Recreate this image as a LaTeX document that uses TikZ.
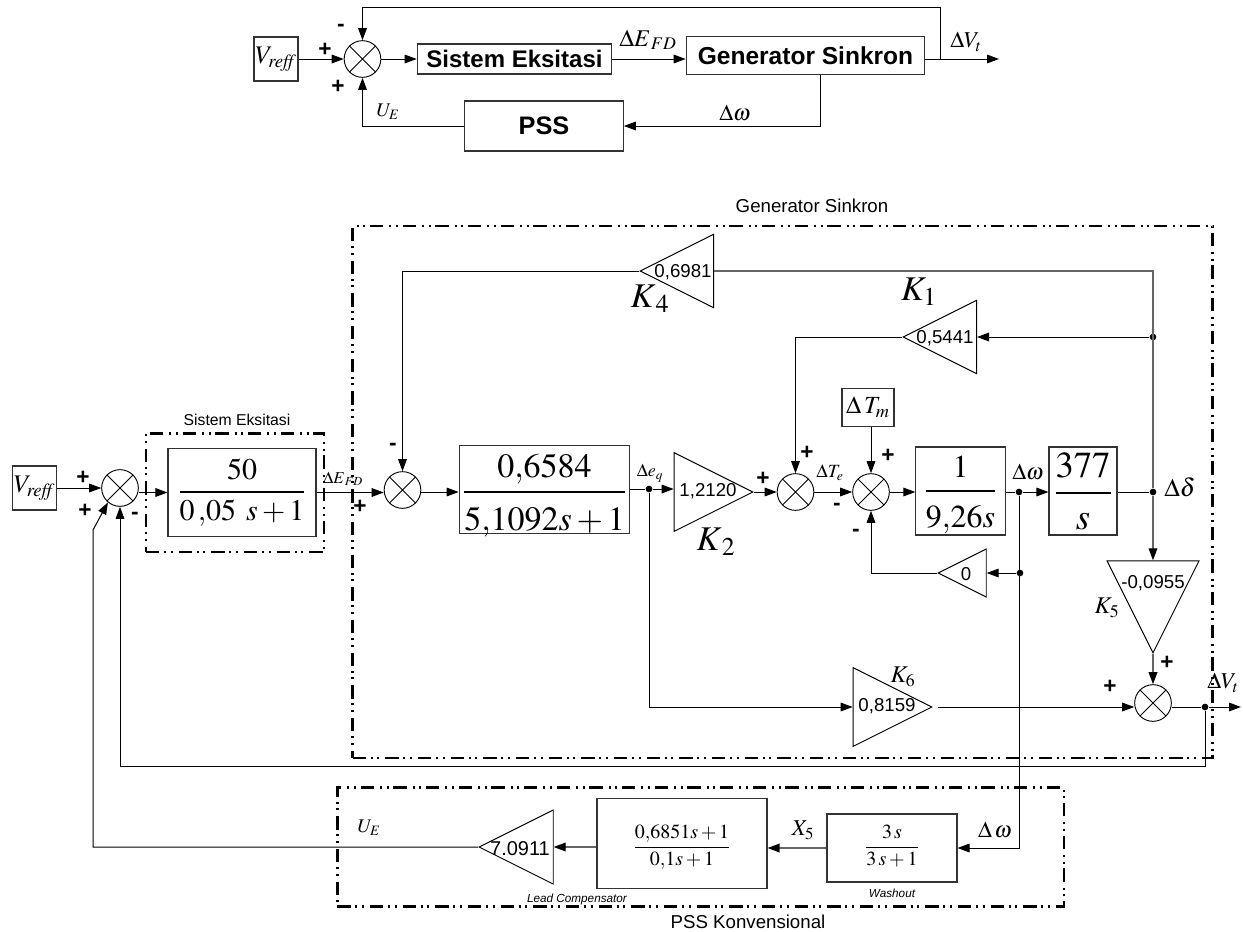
\documentclass[tikz,border=0pt]{standalone}
\usepackage{amsmath}
\usepackage{mathptmx}
\usepackage[no-math]{fontspec}
\setmainfont{Liberation Sans}
\usepackage{tikz}
\usetikzlibrary{shapes.geometric, arrows.meta}

\newcommand{\barfrac}[3]{\smash{\raisebox{\dimexpr#1-0.25em\relax}{$\dfrac{#2}{#3}$}}}

\begin{document}
\begin{tikzpicture}[x=0.75pt, y=-0.75pt,
            block/.style={draw=black!80, rectangle, line width=0.8pt, inner sep=0pt},
            sumnode/.style={draw=black, circle, line width=0.7pt, minimum size=27.5pt, inner sep=0pt,
                path picture={\draw [line width=0.6pt] (path picture bounding box.north west) -- (path picture bounding box.south east)
                    (path picture bounding box.north east) -- (path picture bounding box.south west);}},
            gain/.style={draw=black, isosceles triangle, isosceles triangle stretches, line width=0.7pt, inner sep=0pt, anchor=apex},
            gainleft/.style={gain, shape border rotate=180},
            value/.style={inner sep=0pt, font=\fontsize{14}{16}\selectfont},
            dot/.style={circle, fill=black, inner sep=0pt, minimum size=5pt},
            sign/.style={inner sep=0pt, font=\bfseries\fontsize{17}{19}\selectfont},
            sym/.style={inner sep=0pt, font=\fontsize{17}{19}\selectfont},
            bigk/.style={inner sep=0pt, font=\fontsize{26}{28}\selectfont},
            smallk/.style={inner sep=0pt, font=\fontsize{18}{20}\selectfont},
            title/.style={inner sep=0pt, font=\fontsize{14}{16}\selectfont},
            note/.style={inner sep=0pt, font=\itshape\fontsize{8.8}{10}\selectfont},
            groupbox/.style={draw=black, line width=2pt, dash pattern=on 10pt off 3.5pt on 1.5pt off 3.5pt on 1.5pt off 4.5pt},
            wire/.style={line width=0.75pt},
            greywire/.style={line width=1pt, draw=black!60},
            arrow/.style={wire,-{Triangle[length=9pt,width=6.5pt,color=black]}}]

            \useasboundingbox (0,0) rectangle (1243,932);

            % Top: Nodes
            \node (vrefa) [block, minimum width=33pt, minimum height=33pt, font=\fontsize{19}{20}\selectfont] at (276,59) {$V_{\mathit{reff}}$};
            \node (suma) [sumnode] at (362.5,59) {};
            \node (exca) [block, minimum width=146pt, minimum height=22.5pt, font=\bfseries\fontsize{18}{19}\selectfont] at (514.5,59) {Sistem Eksitasi};
            \node (gena) [block, minimum width=179pt, minimum height=28pt, font=\bfseries\fontsize{18.4}{20}\selectfont] at (805.5,55.5) {Generator Sinkron};
            \node (pssa) [block, minimum width=119pt, minimum height=37.5pt, font=\bfseries\fontsize{19}{20}\selectfont] at (544,126) {PSS};
            \coordinate (outa) at (999,59);
            \coordinate (backa) at (940,59);
            \coordinate (topa) at (940,7);

            % Top: Labels
            \node (plusaa) [sign] at (325,50) {+};
            \node (plusab) [sign] at (338,87) {+};
            \node (minusaa) [sign] at (341,28) {-};
            \node (efda) [sym, font=\fontsize{18}{20}\selectfont] at (648,40) {$\Delta E_{\,FD}$};
            \node (vta) [sym] at (966,42) {$\Delta V_t$};
            \node (ueaa) [sym, font=\fontsize{14.5}{16}\selectfont] at (388,112) {$U_E$};
            \node (omegaa) [sym] at (735,113) {$\Delta\omega$};

            % Top: Arrows
            \draw [arrow] (vrefa.east) -- (suma.west);
            \draw [arrow] (suma.east) -- (exca.west);
            \draw [arrow] (exca.east) -- (gena.west |- exca.east);
            \draw [arrow] (gena.east |- outa) -- (outa);
            \draw [arrow] (backa) -- (topa) -| (suma.north);
            \draw [arrow] (gena.south -| 820,0) |- (pssa.east);
            \draw [arrow] (pssa.west) -| (suma.south);

            % Main: Group boxes
            \node (genbox) [groupbox, minimum width=645pt, minimum height=399pt] at (782.5,492) {};
            \node (excbox) [groupbox, minimum width=133.5pt, minimum height=89pt] at (235,492.5) {};
            \node (pssbox) [groupbox, minimum width=545pt, minimum height=89pt] at (700.5,847) {};
            \node (gentitle) [title] at (812,206) {Generator Sinkron};
            \node (exctitle) [title, font=\fontsize{11.8}{13}\selectfont] at (237,420) {Sistem Eksitasi};
            \node (psstitle) [title] at (748,922) {PSS Konvensional};

            % Main: Nodes
            \node (vrefb) [block, minimum width=33.5pt, minimum height=33pt, font=\fontsize{19}{20}\selectfont] at (34.5,488) {$V_{\mathit{reff}}$};
            \node (sumb) [sumnode] at (120,488) {};
            \node (excb) [block, minimum width=111pt, minimum height=66.5pt, font=\fontsize{22.5}{26}\selectfont] at (242,492.5) {\barfrac{0.4pt}{50}{0\,{,}05\;\,s+1}};
            \node (sumc) [sumnode] at (402.5,490) {};
            \node (blockq) [block, minimum width=128pt, minimum height=66.5pt, font=\fontsize{25.5}{28}\selectfont] at (544.5,489.5) {\barfrac{-1.9pt}{0{,}6584}{\rule{0pt}{1em}5{,}1092s+1}};
            \node (dotq) [dot] at (649,489) {};
            \node (ktwo) [gain, minimum width=59pt, minimum height=59pt] at (754,492) {};
            \node (sumd) [sumnode] at (795.5,492) {};
            \node (sume) [sumnode] at (871,492) {};
            \node (tm) [block, minimum width=39pt, minimum height=28pt, font=\fontsize{18.5}{20}\selectfont] at (868,407.5) {$\Delta\,T_{m}$};
            \node (blockj) [block, minimum width=67pt, minimum height=66pt, font=\fontsize{24}{28}\selectfont] at (960.5,491) {\barfrac{0pt}{1}{\rule{0pt}{1em}9{,}26s}};
            \node (dotw) [dot] at (1019,492) {};
            \node (blocks) [block, minimum width=51pt, minimum height=66pt, font=\fontsize{27.5}{30}\selectfont] at (1083,491) {\barfrac{-1.5pt}{377}{\rule{0pt}{0.85em}s}};
            \node (dotd) [dot] at (1153,492) {};
            \node (dotk) [dot] at (1153,337) {};
            \node (kfour) [gainleft, minimum width=55pt, minimum height=55pt] at (639,271) {};
            \node (kone) [gainleft, minimum width=55pt, minimum height=55pt] at (902,337) {};
            \node (kzero) [gainleft, minimum width=36pt, minimum height=36pt] at (937,573) {};
            \node (dotz) [dot] at (1020,573) {};
            \node (kfive) [gain, shape border rotate=270, minimum width=69pt, minimum height=69pt] at (1153,654) {};
            \node (ksix) [gain, minimum width=59pt, minimum height=59pt] at (933,707) {};
            \node (sumf) [sumnode] at (1153,703) {};
            \node (dotv) [dot] at (1205,707) {};
            \coordinate (outb) at (1241,707);
            \coordinate (backb) at (120,766);
            \coordinate (bendb) at (93,530);

            % Main: PSS nodes
            \node (wash) [block, minimum width=97.5pt, minimum height=51pt, font=\fontsize{15}{18}\selectfont] at (892,848) {\barfrac{0.75pt}{3\,s}{3\,s+1}};
            \node (lead) [block, minimum width=127.5pt, minimum height=67pt, font=\fontsize{15}{18}\selectfont] at (682,843.5) {\barfrac{-2.6pt}{0{,}6851s+1}{0{,}1s+1}};
            \node (kseven) [gainleft, minimum width=55.5pt, minimum height=55.5pt] at (478,847) {};

            % Main: Values
            \node (vfour) [value] at (683,272) {0,6981};
            \node (vone) [value] at (945,338) {0,5441};
            \node (vtwo) [value] at (708,491) {1,2120};
            \node (vzero) [value] at (966,574) {0};
            \node (vfive) [value] at (1153,583) {-0,0955};
            \node (vsix) [value] at (887,706) {0,8159};
            \node (vseven) [value, font=\fontsize{15}{17}\selectfont] at (520,849) {7.0911};

            % Main: Labels
            \node (kfourl) [bigk] at (650,299) {$K_{\,4}$};
            \node (konel) [bigk] at (919,292) {$K_1$};
            \node (ktwol) [bigk] at (716,542) {$K_{\,2}$};
            \node (kfivel) [smallk] at (1107,608) {$K_5$};
            \node (ksixl) [smallk] at (903,677) {$K_6$};
            \node (efdb) [sym, font=\fontsize{12.5}{14}\selectfont] at (343,479) {$\Delta E_{\,FD}$};
            \node (eql) [sym, font=\fontsize{13.5}{14}\selectfont] at (650,473) {$\Delta e_q$};
            \node (tel) [sym, font=\fontsize{14}{14}\selectfont] at (830,473) {$\Delta T_e$};
            \node (omegab) [sym] at (1028,472) {$\Delta\omega$};
            \node (deltal) [sym, font=\fontsize{19}{20}\selectfont] at (1180,487) {$\Delta\delta$};
            \node (vtb) [sym] at (1223,683) {$\Delta V_t$};
            \node (ueb) [sym, font=\fontsize{14.5}{16}\selectfont] at (369,828) {$U_E$};
            \node (xfive) [sym] at (803,830) {$X_5$};
            \node (omegac) [sym] at (995,830) {$\Delta\,\omega$};
            \node (leadl) [note] at (577,899) {Lead Compensator};
            \node (washl) [note] at (892,893) {Washout};

            % Main: Signs
            \node (plusba) [sign] at (83,478) {+};
            \node (plusbb) [sign] at (85,511) {+};
            \node (minusba) [sign] at (135,516) {-};
            \node (plusbc) [sign] at (360,507) {+};
            \node (minusbb) [sign] at (393,447) {-};
            \node (plusbd) [sign] at (763,479) {+};
            \node (plusbe) [sign] at (807,453) {+};
            \node (plusbf) [sign] at (888,456) {+};
            \node (minusbc) [sign] at (837,507) {-};
            \node (minusbd) [sign] at (856,533) {-};
            \node (plusbg) [sign] at (1167,663) {+};
            \node (plusbh) [sign] at (1110,687) {+};

            % Main: Arrows
            \draw [arrow] (vrefb.east) -- (sumb.west);
            \draw [arrow] (sumb.east |- excb.west) -- (excb.west);
            \draw [arrow] (excb.east) -- (sumc.west |- excb.east);
            \draw [arrow] (sumc.east |- blockq.south |- 0,492) -- (blockq.west |- 0,492);
            \draw [wire] (blockq.east |- dotq) -- (dotq);
            \draw [arrow] (dotq) -- (ktwo.lower side |- dotq);
            \draw [arrow] (ktwo.apex) -- (sumd.west);
            \draw [arrow] (sumd.east) -- (sume.west);
            \draw [arrow] (sume.east) -- (blockj.west |- sume.east);
            \draw [arrow] (tm.south -| sume.north) -- (sume.north);
            \draw [wire] (blockj.east |- dotw) -- (dotw);
            \draw [arrow] (dotw) -- (blocks.west |- dotw);
            \draw [wire] (blocks.east |- dotd) -- (dotd);

            % Feedback
            \draw [greywire] (dotd) |- (kfour.lower side);
            \draw [arrow] (kfour.apex) -| (sumc.north);
            \draw [arrow] (dotk) -- (kone.lower side);
            \draw [arrow] (kone.apex) -| (sumd.north);
            \draw [arrow, greywire] (dotd) -- (kfive.lower side);
            \draw [arrow, greywire] (kfive.apex) -- (sumf.north);
            \draw [arrow] (dotz) -- (kzero.lower side);
            \draw [arrow] (kzero.apex) -| (sume.south);
            \draw [arrow] (dotq) |- (ksix.lower side);
            \draw [arrow, shorten <=4pt] (ksix.apex) -- (ksix.apex -| sumf.west);
            \draw [wire] (sumf.east |- dotv) -- (dotv);
            \draw [arrow] (dotv) -- (outb);
            \draw [arrow] (dotv) |- (backb) -- (sumb.south);

            % PSS
            \draw [arrow] (dotw) |- (wash.east);
            \draw [arrow, greywire] (wash.west) -- (lead.east |- wash.west);
            \draw [arrow, greywire] (lead.west |- kseven.lower side) -- (kseven.lower side);
            \draw [arrow] (kseven.apex) -| (bendb) -- (sumb.230);
\end{tikzpicture}
\end{document}
